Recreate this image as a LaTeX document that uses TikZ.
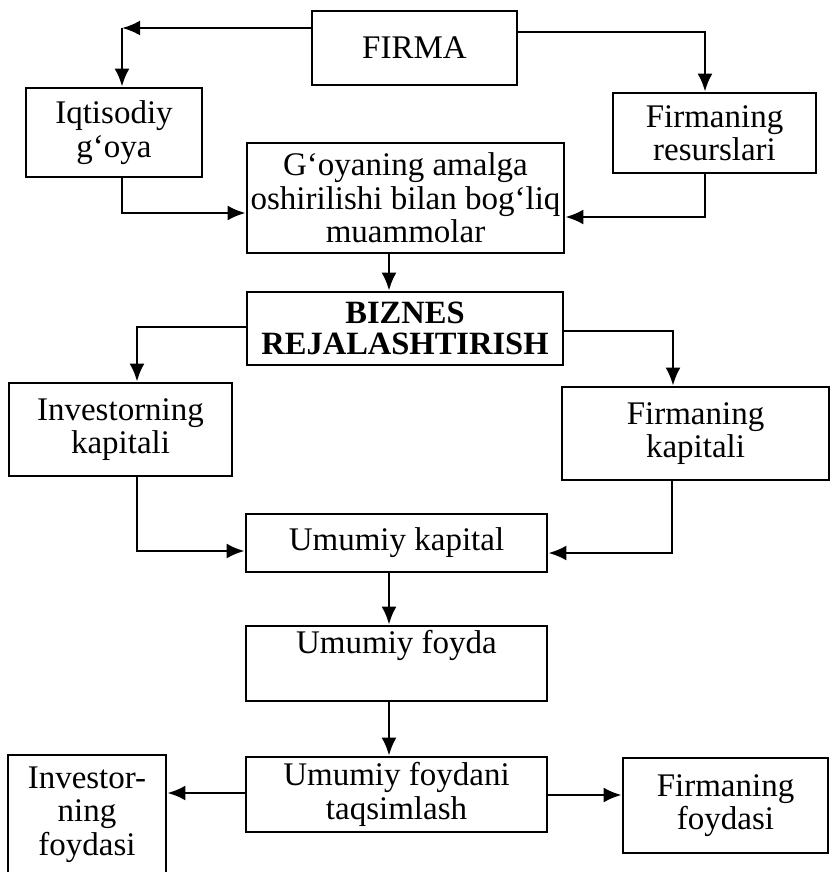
\documentclass[tikz,border=0pt]{standalone}
\usepackage{fontspec}
\setmainfont{Liberation Serif}
\usetikzlibrary{arrows.meta}
\begin{document}
\begin{tikzpicture}[x=1pt, y=-1pt,
  box/.style={draw, line width=2.7pt, align=center, inner sep=0pt,
    font=\fontsize{33}{33.5}\selectfont},
  boldbox/.style={box, font=\fontsize{32.5}{31}\selectfont\bfseries},
  link/.style={line width=2.7pt},
  conn/.style={link, -{Latex[length=18pt,width=15pt]}}]
\useasboundingbox (0,0) rectangle (831,872);

% boxes
\node[box, minimum width=205pt, minimum height=74pt]  (firma) at (414.5,48)  {FIRMA};
\node[box, minimum width=176pt, minimum height=89pt]  (iqt)   at (114,132.5) {Iqtisodiy\\g‘oya};
\node[box, minimum width=203pt, minimum height=80pt]  (res)   at (714.5,133) {Firmaning\\resurslari};
\node[box, minimum width=317pt, minimum height=110pt] (goya)  at (405.5,198) {G‘oyaning amalga\\oshirilishi bilan bog‘liq\\muammolar};
\node[boldbox, minimum width=316pt, minimum height=73pt] (biz) at (405,328.5) {BIZNES\\REJALASHTIRISH};
\node[box, minimum width=223pt, minimum height=93pt]  (invk)  at (120.5,429.5) {Investorning\\kapitali};
\node[box, minimum width=267pt, minimum height=93pt]  (firk)  at (695.5,433.5) {Firmaning\\kapitali};
\node[box, minimum width=301pt, minimum height=58pt]  (umk)   at (396.5,543) {Umumiy kapital};
\node[box, minimum width=301pt, minimum height=75pt]  (umf)   at (396.5,663.5) {Umumiy foyda\\\strut};
\node[box, minimum width=301pt, minimum height=75pt]  (taq)   at (396.5,794.5) {Umumiy foydani\\taqsimlash};
\node[box, minimum width=158pt, minimum height=119pt] (invf)  at (87,814.5) {Investor-\\ning\\foydasi};
\node[box, minimum width=205pt, minimum height=95pt]  (firf)  at (725.5,805.5) {Firmaning\\foydasi};

% bend points of the connectors
\coordinate (c1) at (122,28);
\coordinate (c2) at (705,32);
\coordinate (c3) at (122,213);
\coordinate (c4) at (705,217);
\coordinate (c5) at (137,327);
\coordinate (c6) at (673,331);
\coordinate (c7) at (137,551);
\coordinate (c8) at (672,553);
\coordinate (mid) at (389,0);
\coordinate (l1) at (0,793);
\coordinate (l2) at (0,795);

% connectors
\draw[conn] (firma.west |- c1) -- (c1);
\draw[conn] (c1) -- (c1 |- iqt.north);
\draw[conn] (firma.east |- c2) -| (res.north -| c2);
\draw[conn] (iqt.south -| c3) |- (goya.west |- c3);
\draw[conn] (res.south -| c4) |- (goya.east |- c4);
\draw[conn] (goya.south -| mid) -- (biz.north -| mid);
\draw[conn] (biz.west |- c5) -| (invk.north -| c5);
\draw[conn] (biz.east |- c6) -| (firk.north -| c6);
\draw[conn] (invk.south -| c7) |- (umk.west |- c7);
\draw[conn] (firk.south -| c8) |- (umk.east |- c8);
\draw[conn] (umk.south -| mid) -- (umf.north -| mid);
\draw[conn] (umf.south -| mid) -- (taq.north -| mid);
\draw[conn] (taq.west |- l1) -- (invf.east |- l1);
\draw[conn] (taq.east |- l2) -- (firf.west |- l2);
\end{tikzpicture}
\end{document}
